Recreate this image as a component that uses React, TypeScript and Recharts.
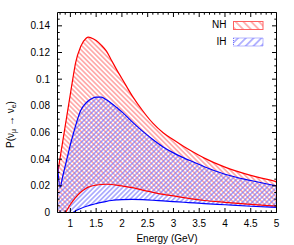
import React from 'react';
import { ComposedChart, Area, Line, XAxis, YAxis } from 'recharts';

const energy = [0.75, 0.8, 0.85, 0.9, 0.95, 1.0, 1.05, 1.1, 1.2, 1.3, 1.35, 1.4, 1.5, 1.6, 1.7, 1.8, 1.9, 2.0, 2.2, 2.4, 2.6, 2.8, 3.0, 3.2, 3.4, 3.6, 4.0, 4.5, 5.0];
const nhUpper = [0.029, 0.041, 0.053, 0.065, 0.077, 0.089, 0.101, 0.112, 0.1245, 0.1305, 0.1315, 0.131, 0.129, 0.1255, 0.121, 0.114, 0.107, 0.1005, 0.0875, 0.0765, 0.067, 0.0598, 0.0545, 0.0495, 0.045, 0.0408, 0.034, 0.0278, 0.0232];
const nhLower = [-0.012, -0.008, -0.004, -0.0005, 0.0028, 0.006, 0.0088, 0.0112, 0.0152, 0.018, 0.019, 0.0197, 0.0205, 0.021, 0.0212, 0.021, 0.0205, 0.0199, 0.0186, 0.0168, 0.0151, 0.0136, 0.0124, 0.0112, 0.01, 0.009, 0.0076, 0.0061, 0.0048];
const ihUpper = [0.036, 0.019, 0.027, 0.035, 0.043, 0.051, 0.058, 0.065, 0.0765, 0.082, 0.0838, 0.0852, 0.0866, 0.0865, 0.0845, 0.0818, 0.0787, 0.0755, 0.068, 0.061, 0.0548, 0.0492, 0.0447, 0.041, 0.0377, 0.0343, 0.0287, 0.024, 0.02];
const ihLower = [-0.022, -0.017, -0.012, -0.0075, -0.0042, -0.0018, -0.0002, 0.0012, 0.003, 0.0045, 0.0051, 0.0057, 0.0067, 0.0076, 0.0084, 0.009, 0.0094, 0.0097, 0.0098, 0.0096, 0.0092, 0.0087, 0.0082, 0.0077, 0.0072, 0.0067, 0.0058, 0.0047, 0.0038];

const seriesNames = ['NH', 'IH'];
const xTicks = [1, 1.5, 2, 2.5, 3, 3.5, 4, 4.5, 5];
const xMinorTicks = [0.8, 0.9, 1.1, 1.2, 1.3, 1.4, 1.6, 1.7, 1.8, 1.9, 2.1, 2.2, 2.3, 2.4, 2.6, 2.7, 2.8, 2.9, 3.1, 3.2, 3.3, 3.4, 3.6, 3.7, 3.8, 3.9, 4.1, 4.2, 4.3, 4.4, 4.6, 4.7, 4.8, 4.9];
const yTicks = [0, 0.02, 0.04, 0.06, 0.08, 0.1, 0.12, 0.14];
const yMinorTicks = [0.005, 0.01, 0.015, 0.025, 0.03, 0.035, 0.045, 0.05, 0.055, 0.065, 0.07, 0.075, 0.085, 0.09, 0.095, 0.105, 0.11, 0.115, 0.125, 0.13, 0.135, 0.145];
const xLabel = 'Energy (GeV)';

const FONT = '"Liberation Sans", Arial, Helvetica, sans-serif';
const MAJOR = 4.5;
const MINOR = 2.2;

const xAll = [...xTicks, ...xMinorTicks].sort((a, b) => a - b);
const yAll = [...yTicks, ...yMinorTicks].sort((a, b) => a - b);

function makeTick(side: 'bottom' | 'top' | 'left' | 'right', majors: number[], showLabel: boolean) {
  return (props: any) => {
    const { x, y, payload } = props;
    const v = payload.value;
    const major = majors.includes(v);
    const len = major ? MAJOR : MINOR;
    let line;
    if (side === 'bottom') line = <line x1={x} y1={y} x2={x} y2={y - len} stroke="#000" strokeWidth={1} />;
    else if (side === 'top') line = <line x1={x} y1={y} x2={x} y2={y + len} stroke="#000" strokeWidth={1} />;
    else if (side === 'left') line = <line x1={x} y1={y} x2={x + len} y2={y} stroke="#000" strokeWidth={1} />;
    else line = <line x1={x} y1={y} x2={x - len} y2={y} stroke="#000" strokeWidth={1} />;
    let label = null;
    if (showLabel && major) {
      if (side === 'bottom') label = <text x={x} y={y + 14} textAnchor="middle" fontSize={10} fontFamily={FONT} fill="#000">{String(v)}</text>;
      else if (side === 'left') label = <text x={x - 7.5} y={y + 3.6} textAnchor="end" fontSize={10} fontFamily={FONT} fill="#000">{String(v)}</text>;
    }
    return <g>{line}{label}</g>;
  };
}

export default function App() {
  const data = energy.map((e, i) => ({
    e,
    nh: [nhLower[i], nhUpper[i]],
    ih: [ihLower[i], ihUpper[i]],
    nhU: nhUpper[i],
    nhL: nhLower[i],
    ihU: ihUpper[i],
    ihL: ihLower[i],
  }));
  const xDomain = [0.75, 5];
  const yDomain = [0, 0.15];
  return (
    <div style={{ position: 'absolute', left: 0, top: 0, width: 294, height: 245, background: '#fff' }}>
      <ComposedChart width={294} height={245} data={data} margin={{ top: 11.5, right: 16.5, bottom: 31.5, left: 56.5 }}>
        <defs>
          <pattern id="nhHatch" patternUnits="userSpaceOnUse" width="3.4" height="3.4" patternTransform="rotate(-45)">
            <line x1="1.7" y1="0" x2="1.7" y2="3.4" stroke="#ff7070" strokeWidth="1" />
          </pattern>
          <pattern id="ihHatch" patternUnits="userSpaceOnUse" width="3.4" height="3.4" patternTransform="rotate(45)">
            <line x1="1.7" y1="0" x2="1.7" y2="3.4" stroke="#7070ff" strokeWidth="1" />
          </pattern>
          <pattern id="nhLegend" patternUnits="userSpaceOnUse" width="5.5" height="5.5" patternTransform="rotate(-45)">
            <line x1="2.75" y1="0" x2="2.75" y2="5.5" stroke="#ff7070" strokeWidth="1" />
          </pattern>
          <pattern id="ihLegend" patternUnits="userSpaceOnUse" width="5.5" height="5.5" patternTransform="rotate(45)">
            <line x1="2.75" y1="0" x2="2.75" y2="5.5" stroke="#7070ff" strokeWidth="1" />
          </pattern>
        </defs>

        <XAxis dataKey="e" type="number" domain={xDomain} allowDataOverflow ticks={xAll} interval={0}
          height={1} tickSize={0} tickMargin={0} axisLine={{ stroke: '#000' }} tickLine={false} tick={makeTick('bottom', xTicks, true)} />
        <XAxis xAxisId="top" orientation="top" dataKey="e" type="number" domain={xDomain} allowDataOverflow ticks={xAll} interval={0}
          height={1} tickSize={0} tickMargin={0} axisLine={{ stroke: '#000' }} tickLine={false} tick={makeTick('top', xTicks, false)} />
        <YAxis type="number" domain={yDomain} allowDataOverflow ticks={yAll} interval={0}
          width={1} tickSize={0} tickMargin={0} axisLine={{ stroke: '#000' }} tickLine={false} tick={makeTick('left', yTicks, true)} />
        <YAxis yAxisId="right" orientation="right" type="number" domain={yDomain} allowDataOverflow ticks={yAll} interval={0}
          width={1} tickSize={0} tickMargin={0} axisLine={{ stroke: '#000' }} tickLine={false} tick={makeTick('right', yTicks, false)} />

        <Area type="monotone" dataKey="nh" stroke="none" fill="url(#nhHatch)" fillOpacity={1} isAnimationActive={false} />
        <Area type="monotone" dataKey="ih" stroke="none" fill="url(#ihHatch)" fillOpacity={1} isAnimationActive={false} />
        <Line type="monotone" dataKey="nhU" stroke="#ff0000" strokeWidth={1.2} dot={false} isAnimationActive={false} />
        <Line type="monotone" dataKey="nhL" stroke="#ff0000" strokeWidth={1.2} dot={false} isAnimationActive={false} />
        <Line type="monotone" dataKey="ihU" stroke="#0000ff" strokeWidth={1.2} dot={false} isAnimationActive={false} />
        <Line type="monotone" dataKey="ihL" stroke="#0000ff" strokeWidth={1.2} dot={false} isAnimationActive={false} />

        <text x={167} y={241.5} textAnchor="middle" fontSize={10} fontFamily={FONT} fill="#000">{xLabel}</text>
        <text transform="translate(13.5,124.5) rotate(-90)" textAnchor="middle" fontSize={10} fontFamily={FONT} fill="#000">
          P(ν<tspan fontSize={7} dy={2.5}>μ</tspan><tspan dy={-2.5}> → ν</tspan><tspan fontSize={7} dy={2.5}>e</tspan><tspan dy={-2.5}>)</tspan>
        </text>

        <text x={226.5} y={28.3} textAnchor="end" fontSize={10} fontFamily={FONT} fill="#000">{seriesNames[0]}</text>
        <rect x={233.5} y={21.5} width={29.5} height={8} fill="url(#nhLegend)" stroke="#ff6060" strokeWidth={1} />
        <text x={226.5} y={45.3} textAnchor="end" fontSize={10} fontFamily={FONT} fill="#000">{seriesNames[1]}</text>
        <rect x={233.5} y={38} width={29.5} height={8} fill="url(#ihLegend)" stroke="#7070ff" strokeWidth={1} strokeDasharray="1 1" />
      </ComposedChart>
    </div>
  );
}
